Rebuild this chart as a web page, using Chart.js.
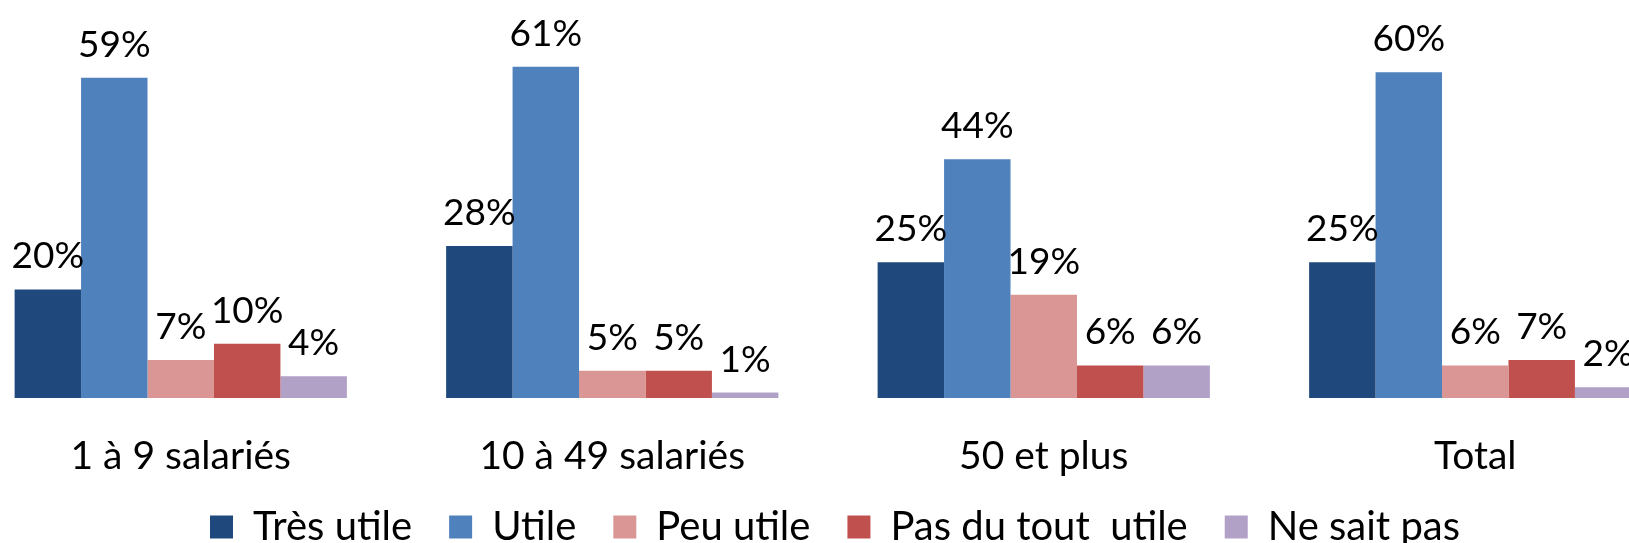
<!DOCTYPE html>
<html>
<head>
<meta charset="utf-8">
<script src="https://cdn.jsdelivr.net/npm/chart.js@4"></script>
<style>
  html, body { margin: 0; padding: 0; background: #fff; overflow: hidden; }
  #wrap { position: absolute; left: -35px; top: 0; width: 1726px; height: 543px; }
</style>
</head>
<body>
<div id="wrap"><canvas id="myChart"></canvas></div>
<script>
// données
const categories = ['1 à 9 salariés', '10 à 49 salariés', '50 et plus', 'Total'];
const tresUtile = [20, 28, 25, 25];
const utile = [59, 61, 44, 60];
const peuUtile = [7, 5, 19, 6];
const pasDuToutUtile = [10, 5, 6, 7];
const neSaitPas = [4, 1, 6, 2];

const FONT = 'Lato';

// étiquettes de valeur au-dessus des barres
const valueLabels = {
    id: 'valueLabels',
    afterDatasetsDraw(chart) {
        const ctx = chart.ctx;
        ctx.save();
        ctx.font = '37px ' + FONT;
        ctx.fillStyle = '#000';
        ctx.textAlign = 'center';
        ctx.textBaseline = 'alphabetic';
        chart.data.datasets.forEach((ds, i) => {
            chart.getDatasetMeta(i).data.forEach((bar, j) => {
                ctx.fillText(ds.data[j] + '%', bar.x, bar.y - 21);
            });
        });
        ctx.restore();
    }
};

// petit décalage de la légende vers la droite
const legendShift = {
    id: 'legendShift',
    afterLayout(chart) {
        if (chart.legend) {
            chart.legend.left += 7;
            chart.legend.right += 7;
        }
    }
};

document.addEventListener('DOMContentLoaded', () => {
    const canvas = document.getElementById('myChart');
    new Chart(canvas, {
        type: 'bar',
        data: {
            labels: categories,
            datasets: [
                { label: 'Très utile', data: tresUtile, backgroundColor: '#1F497D' },
                { label: 'Utile', data: utile, backgroundColor: '#4F81BD' },
                { label: 'Peu utile', data: peuUtile, backgroundColor: '#D99694' },
                { label: 'Pas du tout  utile', data: pasDuToutUtile, backgroundColor: '#C0504D' },
                { label: 'Ne sait pas', data: neSaitPas, backgroundColor: '#B2A1C7' }
            ]
        },
        options: {
            responsive: true,
            maintainAspectRatio: false,
            animation: false,
            categoryPercentage: 0.77,
            barPercentage: 1,
            layout: { padding: { top: 18, bottom: -14, left: 0, right: 0 } },
            plugins: {
                legend: {
                    position: 'bottom',
                    labels: {
                        boxWidth: 23,
                        boxHeight: 23,
                        padding: 37,
                        color: '#000',
                        font: { family: FONT, size: 40 }
                    }
                },
                tooltip: { enabled: false }
            },
            scales: {
                x: {
                    grid: { display: false, drawTicks: false },
                    border: { display: false },
                    ticks: { color: '#000', mirror: true, padding: -82, font: { family: FONT, size: 39 } },
                    afterFit: (scale) => { scale.height = 72; }
                },
                y: {
                    display: false,
                    min: 0,
                    max: 70
                }
            }
        },
        plugins: [valueLabels, legendShift]
    });
});
</script>
</body>
</html>
